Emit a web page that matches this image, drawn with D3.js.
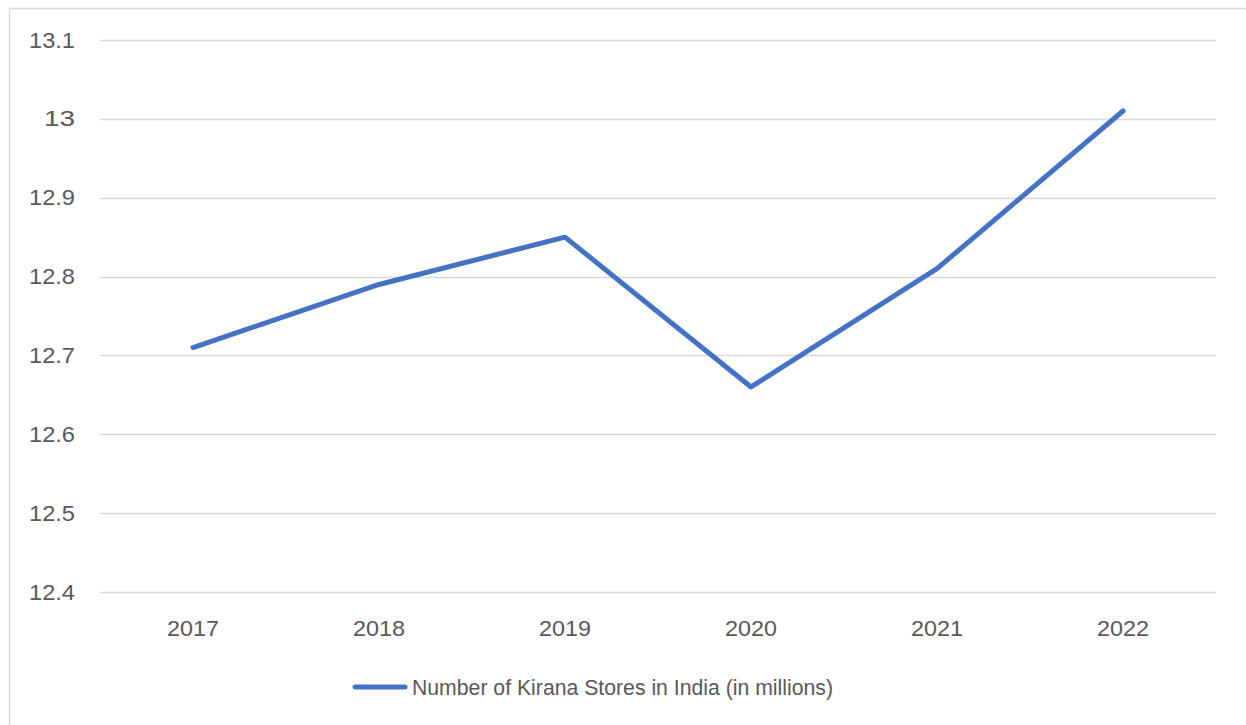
<!DOCTYPE html>
<html>
<head>
<meta charset="utf-8">
<script src="https://cdn.jsdelivr.net/npm/d3@7"></script>
<style>
  body { margin: 0; background: #fff; }
  svg text { font-family: "Liberation Sans", Arial, sans-serif; fill: #595959; }
</style>
</head>
<body>
<svg width="1246" height="725"></svg>
<script>
var years = ["2017", "2018", "2019", "2020", "2021", "2022"];
var stores = [12.71, 12.79, 12.85, 12.66, 12.81, 13.01];
var yTicks = [12.4, 12.5, 12.6, 12.7, 12.8, 12.9, 13, 13.1];
var seriesName = "Number of Kirana Stores in India (in millions)";

var svg = d3.select("svg");

// chart frame
svg.append("rect")
    .attr("x", 9.5)
    .attr("y", 8.5)
    .attr("width", 1260)
    .attr("height", 740)
    .style("fill", "none")
    .style("stroke", "#d9d9d9")
    .style("stroke-width", 1.5);

var margin = {left: 100, right: 30, top: 40, bottom: 133};
var width = 1246 - margin.left - margin.right;   // 1116
var height = 725 - margin.top - margin.bottom;   // 552

var g = svg.append("g")
    .attr("transform", "translate(" + margin.left + "," + margin.top + ")");

var x = d3.scaleBand()
    .domain(years)
    .range([0, width]);

var y = d3.scaleLinear()
    .domain([12.4, 13.1])
    .range([height, 0]);

// gridlines
g.append("g")
    .selectAll("line")
    .data(yTicks)
    .enter()
    .append("line")
    .attr("x1", 0)
    .attr("x2", width)
    .attr("y1", function(d) { return Math.round(y(d)) + 0.5; })
    .attr("y2", function(d) { return Math.round(y(d)) + 0.5; })
    .style("stroke", "#d9d9d9")
    .style("stroke-width", 1.5);

// y axis labels
var yAxis = d3.axisLeft(y)
    .tickValues(yTicks)
    .tickSize(0)
    .tickPadding(25)
    .tickFormat(function(d) { return String(d); });

g.append("g")
    .call(yAxis)
    .call(function(s) { s.select(".domain").remove(); })
    .selectAll("text")
    .style("font-size", "22px")
    .attr("textLength", function(d) { return String(d).length === 2 ? 31 : 46; })
    .attr("lengthAdjust", "spacingAndGlyphs")
    .style("fill", "#595959");

// x axis labels
var xAxis = d3.axisBottom(x)
    .tickSize(0)
    .tickPadding(28);

g.append("g")
    .attr("transform", "translate(0," + height + ")")
    .call(xAxis)
    .call(function(s) { s.select(".domain").remove(); })
    .selectAll("text")
    .style("font-size", "22px")
    .attr("textLength", 52)
    .attr("lengthAdjust", "spacingAndGlyphs")
    .style("fill", "#595959");

// the line
var line = d3.line()
    .x(function(d, i) { return x(years[i]) + x.bandwidth() / 2; })
    .y(function(d) { return y(d); });

g.append("path")
    .datum(stores)
    .attr("d", line)
    .style("fill", "none")
    .style("stroke", "#4472C4")
    .style("stroke-width", 5)
    .style("stroke-linejoin", "round")
    .style("stroke-linecap", "round");

// legend
var legend = svg.append("g")
    .attr("transform", "translate(355,687)");

legend.append("line")
    .attr("x1", 0)
    .attr("x2", 50)
    .style("stroke", "#4472C4")
    .style("stroke-width", 5)
    .style("stroke-linecap", "round");

legend.append("text")
    .attr("x", 57)
    .attr("dy", "0.35em")
    .style("font-size", "22px")
    .attr("textLength", 421)
    .attr("lengthAdjust", "spacingAndGlyphs")
    .text(seriesName);
</script>
</body>
</html>
